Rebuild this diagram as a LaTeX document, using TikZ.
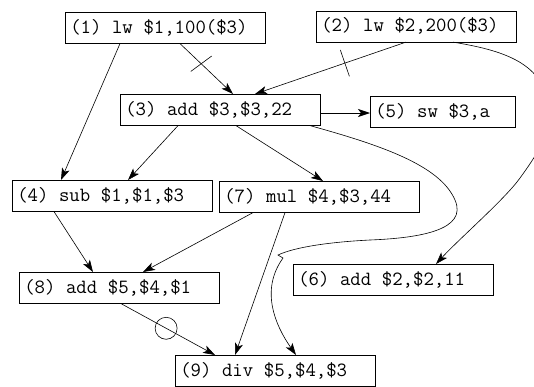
\documentclass[tikz,border=0pt]{standalone}
\usepackage{fontspec}
\usetikzlibrary{arrows.meta,calc}
\begin{document}
\begin{tikzpicture}[x=1pt,y=-1pt,line width=0.6pt,
  box/.style={draw, rectangle, anchor=north west, minimum height=31pt,
    inner xsep=5pt, inner ysep=0pt, text width=190pt, align=left,
    font=\ttfamily\fontsize{20.2}{24}\selectfont,
    execute at begin node={\spaceskip=10.6pt plus 0pt minus 0pt\relax\xspaceskip=10.6pt\relax}},
  arr/.style={-{Stealth[length=12pt,width=8pt,inset=3pt]}},
  ring/.style={draw, circle, minimum size=22pt, inner sep=0pt}]
\useasboundingbox (0,0) rectangle (534,386);
\clip (0,0) rectangle (534,386);

\node[box] (n1) at (65,12) {(1) lw \$1,100(\$3)};
\node[box] (n2) at (316,10.5) {(2) lw \$2,200(\$3)};
\node[box] (n3) at (120,94) {(3) add \$3,\$3,22};
\node[box, text width=135pt] (n5) at (370,96) {(5) sw \$3,a};
\node[box] (n4) at (12,180) {(4) sub \$1,\$1,\$3};
\node[box] (n7) at (219,181) {(7) mul \$4,\$3,44};
\node[box] (n8) at (19,272) {(8) add \$5,\$4,\$1};
\node[box] (n6) at (293,264) {(6) add \$2,\$2,11};
\node[box] (n9) at (175,355) {(9) div \$5,\$4,\$3};

% (1) -> (3) with tick
\coordinate (a13) at ([xshift=115pt]n1.south west);
\coordinate (b13) at ([xshift=113pt]n3.north west);
\draw[arr] (a13) -- (b13);
\coordinate (p13) at ($(a13)!0.40!(b13)$);
\draw ($(p13)!13pt!80:(b13)$) -- ($(p13)!13pt!-100:(b13)$);

% (2) -> (3) with tick
\coordinate (a23) at ([xshift=90pt]n2.south west);
\coordinate (b23) at ([xshift=135pt]n3.north west);
\draw[arr] (a23) -- (b23);
\coordinate (p23) at ($(a23)!0.405!(b23)$);
\draw ($(p23)!14pt!90:(b23)$) -- ($(p23)!14pt!-90:(b23)$);

% (1) -> (4)
\draw[arr] ([xshift=55pt]n1.south west) -- ([xshift=49pt]n4.north west);
% (3) -> (5)
\draw[arr] ([yshift=-19pt]n3.north east) -- ([yshift=-19pt]n3.north east -| n5.west);
% (3) -> (4)
\draw[arr] ([xshift=58pt]n3.south west) -- ([xshift=116pt]n4.north west);
% (3) -> (7)
\draw[arr] ([xshift=116pt]n3.south west) -- ([xshift=104pt]n7.north west);
% (2) -> (6)
\draw[arr] ([xshift=137pt]n2.south west)
  .. controls (500,50) and (548,62) .. (548,112)
  .. controls (552,135) and (530,164) .. (520,178)
  .. controls (505,199) and (460,238) .. ([xshift=143pt]n6.north west);
% (3) -> (9) long curve
\draw[arr] ([xshift=190pt]n3.south west)
  .. controls (380,145) and (440,165) .. (455,200)
  .. controls (468,230) and (420,238) .. (370,240)
  .. controls (330,242) and (295,247) .. (278,255)
  -- (283,258)
  .. controls (260,290) and (275,325) .. ([xshift=121pt]n9.north west);
% (7) -> (9)
\draw[arr] ([xshift=66pt]n7.south west) -- ([xshift=60pt]n9.north west);
% (7) -> (8)
\draw[arr] ([xshift=34pt]n7.south west) -- ([xshift=124pt]n8.north west);
% (4) -> (8)
\draw[arr] ([xshift=42pt]n4.south west) -- ([xshift=74pt]n8.north west);
% (8) -> (9) with circle
\draw[arr] ([xshift=102pt]n8.south west) -- node[ring, pos=0.48] (c89) {} ([xshift=40pt]n9.north west);
\end{tikzpicture}
\end{document}
